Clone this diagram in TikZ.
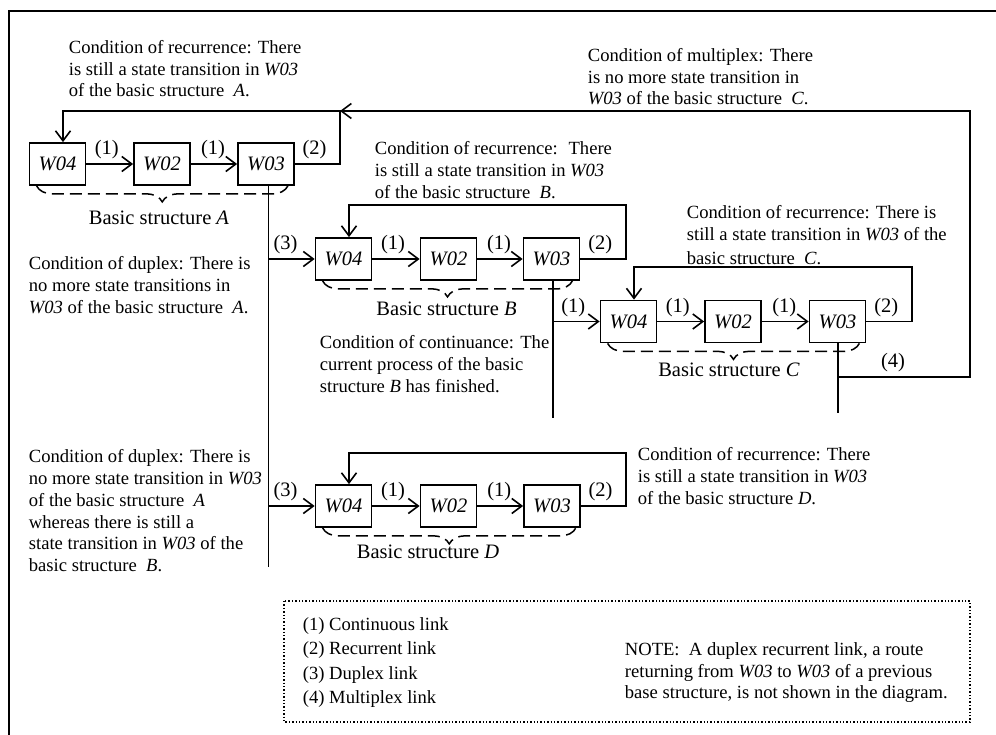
\documentclass[tikz,border=0pt]{standalone}
\usepackage{fontspec}
\setmainfont{Liberation Serif}
\usetikzlibrary{arrows.meta,decorations.pathreplacing,calc}
\begin{document}
\begin{tikzpicture}[x=1pt,y=-1pt,
  line width=1.8pt,
  box/.style={draw, line width=1.8pt, minimum width=56pt, minimum height=42pt, inner sep=0pt, font=\fontsize{20.5}{24}\selectfont\itshape},
  lbl/.style={font=\fontsize{20.5}{24}\selectfont, inner sep=0pt},
  txt/.style={font=\fontsize{18.6}{21.7}\selectfont, align=left, anchor=north west, inner sep=0pt},
  bsl/.style={font=\fontsize{20.5}{24}\selectfont, inner sep=0pt, anchor=base},
  arr/.style={-{Straight Barb[length=10pt,width=15pt,line width=1.6pt]}},
  brc/.style={decorate, decoration={brace,mirror,amplitude=16pt}, dash pattern=on 12pt off 6pt, line width=1.5pt},
]
\useasboundingbox (0,0) rectangle (996,735);
\clip (0,0) rectangle (996,735);
% frame
\draw[line width=2pt] (1010,11) -- (9,11) -- (9,760);

% boxes
\node[box] (a1) at (57.5,164) {W04};
\node[box] (a2) at (162,164) {W02};
\node[box] (a3) at (266,164) {W03};
\node[box] (b1) at (343.5,259) {W04};
\node[box] (b2) at (448.5,259) {W02};
\node[box] (b3) at (551.5,259) {W03};
\node[box] (c1) at (628.5,321.5) {W04};
\node[box] (c2) at (733,321.5) {W02};
\node[box] (c3) at (837.5,321.5) {W03};
\node[box] (d1) at (343.5,506) {W04};
\node[box] (d2) at (448.5,506) {W02};
\node[box] (d3) at (552,506) {W03};

% coordinates
\coordinate (ja) at (340,111);
\coordinate (la) at (63,111);
\coordinate (rb) at (626,205);
\coordinate (lb) at (349,205);
\coordinate (rc) at (912,267);
\coordinate (lc) at (634,267);
\coordinate (rd) at (626,453);
\coordinate (ld) at (349,453);
\coordinate (ta) at (268.5,567);
\coordinate (tb) at (553,418);
\coordinate (tc) at (838,413);
\coordinate (mc) at (838,377);
\coordinate (mr) at (970,377);
\coordinate (mt) at (970,111);

% continuous links
\draw[arr] (a1) -- node[lbl,above=4pt,xshift=-3pt]{(1)} (a2);
\draw[arr] (a2) -- node[lbl,above=4pt,xshift=-1pt]{(1)} (a3);
\draw[arr] (b1) -- node[lbl,above=4pt,xshift=-3pt]{(1)} (b2);
\draw[arr] (b2) -- node[lbl,above=4pt,xshift=-1pt]{(1)} (b3);
\draw[arr] (c1) -- node[lbl,above=4pt,xshift=-3pt]{(1)} (c2);
\draw[arr] (c2) -- node[lbl,above=4pt,xshift=-1pt]{(1)} (c3);
\draw[arr] (d1) -- node[lbl,above=4pt,xshift=-3pt]{(1)} (d2);
\draw[arr] (d2) -- node[lbl,above=4pt,xshift=-1pt]{(1)} (d3);

% recurrent links
\draw[arr] (a3.east) -- node[lbl,above=4pt,xshift=-3pt]{(2)} (a3.east -| ja) -- (ja) -- (la) -- (la |- a1.north);
\draw[arr] (b3.east) -- node[lbl,above=4pt,xshift=-3pt]{(2)} (b3.east -| rb) -- (rb) -- (lb) -- (lb |- b1.north);
\draw[arr] (c3.east) -- node[lbl,above=4pt,xshift=-3pt]{(2)} (c3.east -| rc) -- (rc) -- (lc) -- (lc |- c1.north);
\draw[arr] (d3.east) -- node[lbl,above=4pt,xshift=-3pt]{(2)} (d3.east -| rd) -- (rd) -- (ld) -- (ld |- d1.north);

% duplex links
\draw (a3.south -| ta) -- (ta);
\draw[arr] (ta |- b1.west) -- node[lbl,above=4pt,xshift=-6pt]{(3)} (b1.west);
\draw[arr] (ta |- d1.west) -- node[lbl,above=4pt,xshift=-6pt]{(3)} (d1.west);

% continuance link B -> C
\draw (b3.south -| tb) -- (tb);
\draw[arr] (tb |- c1.west) -- node[lbl,above=4pt,xshift=-3pt]{(1)} (c1.west);

% multiplex link C -> A
\draw (c3.south -| tc) -- (tc);
\draw[arr] (mc) -- node[lbl,above=4pt,xshift=-11pt]{(4)} (mr) -- (mt) -- (ja);

% braces
\draw[brc] ([xshift=8pt]a1.south west) -- ([xshift=-7pt]a3.south east);
\draw[brc] ([xshift=8pt]b1.south west) -- ([xshift=-8pt]b3.south east);
\draw[brc] ([xshift=8pt]c1.south west) -- ([xshift=-7pt]c3.south east);
\draw[brc] ([xshift=8pt]d1.south west) -- ([xshift=-5pt]d3.south east);

\node[bsl] (bsa) at (159,224.5) {Basic structure \textit{A}};
\node[bsl] (bsb) at (446.5,315.5) {Basic structure \textit{B}};
\node[bsl] (bsc) at (729,376.5) {Basic structure \textit{C}};
\node[bsl] (bsd) at (428,558) {Basic structure \textit{D}};

% condition texts
\node[txt] (t1) at (68,39.5) {Condition of recurrence: There\\is still a state transition in \textit{W03}\\of the basic structure \ \textit{A}.};
\node[txt] (t2) at (587,47.5) {Condition of multiplex: There\\is no more state transition in\\\textit{W03} of the basic structure \ \textit{C}.};
\node[txt] (t3) at (374,141) {Condition of recurrence: \ There\\is still a state transition in \textit{W03}\\of the basic structure \ \textit{B}.};
\node[txt] (t4) at (686,204.5) {Condition of recurrence: There is\\still a state transition in \textit{W03} of the\\[2.5pt]basic structure \ \textit{C}.};
\node[txt] (t5) at (28,256) {Condition of duplex: There is\\no more state transitions in\\\textit{W03} of the basic structure \ \textit{A}.};
\node[txt] (t6) at (319,335) {Condition of continuance: The\\current process of the basic\\structure \textit{B} has finished.};
\node[txt] (t7) at (28,449) {Condition of duplex: There is\\no more state transition in \textit{W03}\\of the basic structure \ \textit{A}\\whereas there is still a\\state transition in \textit{W03} of the\\basic structure \ \textit{B}.};
\node[txt] (t8) at (637,447) {Condition of recurrence: There\\is still a state transition in \textit{W03}\\of the basic structure \textit{D}.};

% legend
\draw[dotted, line width=1.4pt] (284,601) rectangle (970,722);
\node[txt, font=\fontsize{18.6}{24.5}\selectfont] (leg) at (302,616.5) {(1) Continuous link\\(2) Recurrent link\\(3) Duplex link\\(4) Multiplex link};
\node[txt] (note) at (624,641.5) {NOTE: \ A duplex recurrent link, a route\\returning from \textit{W03} to \textit{W03} of a previous\\base structure, is not shown in the diagram.};
\end{tikzpicture}
\end{document}
